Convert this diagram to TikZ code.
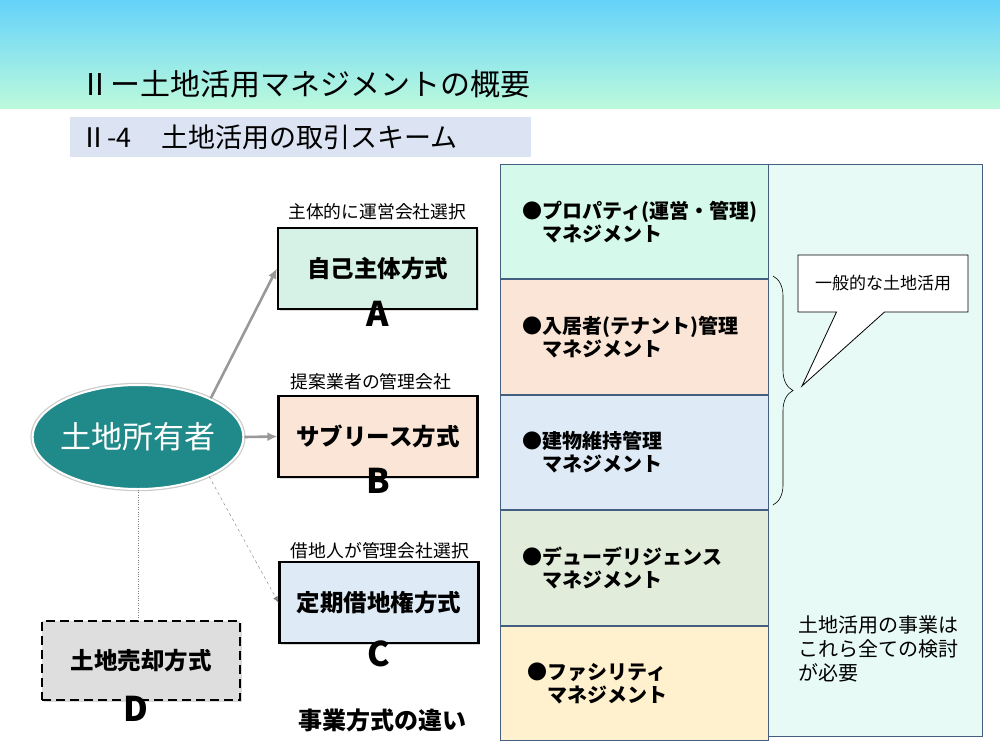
\documentclass[tikz,border=0pt]{standalone}
\usepackage{fontspec}
\setmainfont{Noto Sans CJK JP}
\usepackage{xcolor}
\usepackage{tikz}
\usetikzlibrary{shapes,arrows,arrows.meta,shadows,decorations.pathreplacing}
\usetikzlibrary{positioning}
\definecolor{headtop}{RGB}{100,210,250}
\definecolor{headbot}{RGB}{188,250,220}
\definecolor{subfill}{RGB}{220,227,242}
\definecolor{ownerteal}{RGB}{31,138,137}
\definecolor{fillA}{RGB}{214,242,230}
\definecolor{fillB}{RGB}{251,229,214}
\definecolor{fillC}{RGB}{222,234,246}
\definecolor{fillD}{RGB}{222,222,222}
\definecolor{mgmtone}{RGB}{213,249,234}
\definecolor{mgmttwo}{RGB}{251,229,214}
\definecolor{mgmtthree}{RGB}{222,234,246}
\definecolor{mgmtfour}{RGB}{226,236,218}
\definecolor{mgmtfive}{RGB}{255,241,206}
\definecolor{panelfill}{RGB}{232,250,245}
\definecolor{edge}{RGB}{68,94,128}
\tikzstyle{method_block} = [rectangle, draw, line width=2.2pt,
    drop shadow={shadow xshift=1.5pt, shadow yshift=-1.5pt, opacity=0.3},
    minimum width=199pt, minimum height=81pt, font=\bfseries\fontsize{23.5}{28}\selectfont]
\tikzstyle{mgmt_block} = [rectangle, draw=edge, line width=1pt, text width=224pt,
    inner xsep=22pt, minimum height=114.4pt, align=left, font=\bfseries\fontsize{20}{23}\selectfont]
\tikzstyle{note} = [inner sep=0pt, font=\fontsize{17.8}{21}\selectfont]
\tikzstyle{letter} = [inner sep=0pt, font=\bfseries\fontsize{34}{40}\selectfont]
\tikzstyle{line} = [draw, -{Latex[length=10pt, width=9pt]}, line width=2.6pt, gray!80]
\tikzstyle{dline} = [draw, -{Latex[length=6pt, width=5pt]}, thin, dashed, gray]
\tikzstyle{dotline} = [draw, thin, dotted, gray]

\begin{document}
\begin{tikzpicture}[x=1pt, y=-1pt, node distance = 1cm, auto]
    \useasboundingbox (0,0) rectangle (1000,750);
    % Header
    \shade [top color=headtop, bottom color=headbot] (0,0) rectangle (1000,108);
    \node [anchor=west, inner sep=0pt, font=\fontsize{30}{36}\selectfont] (title) at (80,84) {Ⅱー土地活用マネジメントの概要};
    \node [anchor=west, fill=subfill, text width=441pt, inner xsep=10pt, minimum height=40pt, align=left,
        font=\fontsize{27}{32}\selectfont] (subtitle) at (70,137) {Ⅱ-4\hspace{1.1em}土地活用の取引スキーム};

    % Place nodes
    \node [ellipse, fill=ownerteal, draw=white, line width=2pt, preaction={draw=black!20, line width=4.5pt},
        inner xsep=-3pt, inner ysep=0pt, minimum width=210pt, minimum height=104pt, text=white,
        font=\fontsize{31}{36}\selectfont] (owner) at (138,437) {土地所有者};
    \node [method_block, fill=fillA] (selfrun) at (377.5,268.5) {自己主体方式};
    \node [method_block, fill=fillB] (sublease) at (378,436.5) {サブリース方式};
    \node [method_block, fill=fillC] (leasehold) at (379,602.5) {定期借地権方式};
    \node [method_block, fill=fillD, dash pattern=on 9pt off 5pt, minimum width=198pt, minimum height=79pt] (landsale) at (141,660.5) {土地売却方式};

    \node [letter, below=-9pt of selfrun] (lblA) {A};
    \node [letter, below=-10pt of sublease] (lblB) {B};
    \node [letter, below=-4pt of leasehold] (lblC) {C};
    \node [letter, below=-5pt of landsale, xshift=-5pt] (lblD) {D};
    \node [note, above right=7pt and -190pt of selfrun] (noteA) {主体的に運営会社選択};
    \node [note, above right=5pt and -188pt of sublease] (noteB) {提案業者の管理会社};
    \node [note, above right=2pt and -189pt of leasehold] (noteC) {借地人が管理会社選択};
    \node [font=\bfseries\fontsize{24}{28}\selectfont, inner sep=0pt] (caption) at (382,720) {事業方式の違い};

    % Management side
    \node [rectangle, draw=edge, fill=panelfill, anchor=north west, minimum width=214pt, minimum height=572pt] (panel) at (768,164) {};
    \node [mgmt_block, fill=mgmtone, anchor=north west] (prop) at (500,164) {●プロパティ(運営・管理)\\\hspace*{1em}マネジメント};
    \node [mgmt_block, fill=mgmttwo, below=0pt of prop] (tenant) {●入居者(テナント)管理\\\hspace*{1em}マネジメント};
    \node [mgmt_block, fill=mgmtthree, below=0pt of tenant] (upkeep) {●建物維持管理\\\hspace*{1em}マネジメント};
    \node [mgmt_block, fill=mgmtfour, below=0pt of upkeep] (diligence) {●デューデリジェンス\\\hspace*{1em}マネジメント};
    \node [mgmt_block, fill=mgmtfive, below=0pt of diligence] (facility) {\hspace*{5pt}●ファシリティ\\\hspace*{5pt}\hspace*{1em}マネジメント};
    \node [anchor=north west, align=left, inner sep=0pt, font=\fontsize{20}{24}\selectfont] (needall) at (798,615) {土地活用の事業は\\これら全ての検討\\が必要};

    \draw [semithick, decorate, decoration={brace, amplitude=20pt}] (773,276) -- (773,505);
    \coordinate (bracetip) at (802,386);
    \node [rectangle callout, draw, fill=white, thick, minimum width=170pt, minimum height=57pt,
        callout absolute pointer={(bracetip)}, callout pointer width=48pt,
        font=\fontsize{17}{20}\selectfont] (common) at (883,283.5) {一般的な土地活用};

    \path [line] (owner.28) -- (selfrun.west);
    \path [line] (owner.east) -- (sublease.west);
    \path [dline] (owner.-29) -- (leasehold.west);
    \path [dotline] (owner.south) -- (owner.south |- landsale.north);
\end{tikzpicture}
\end{document}
